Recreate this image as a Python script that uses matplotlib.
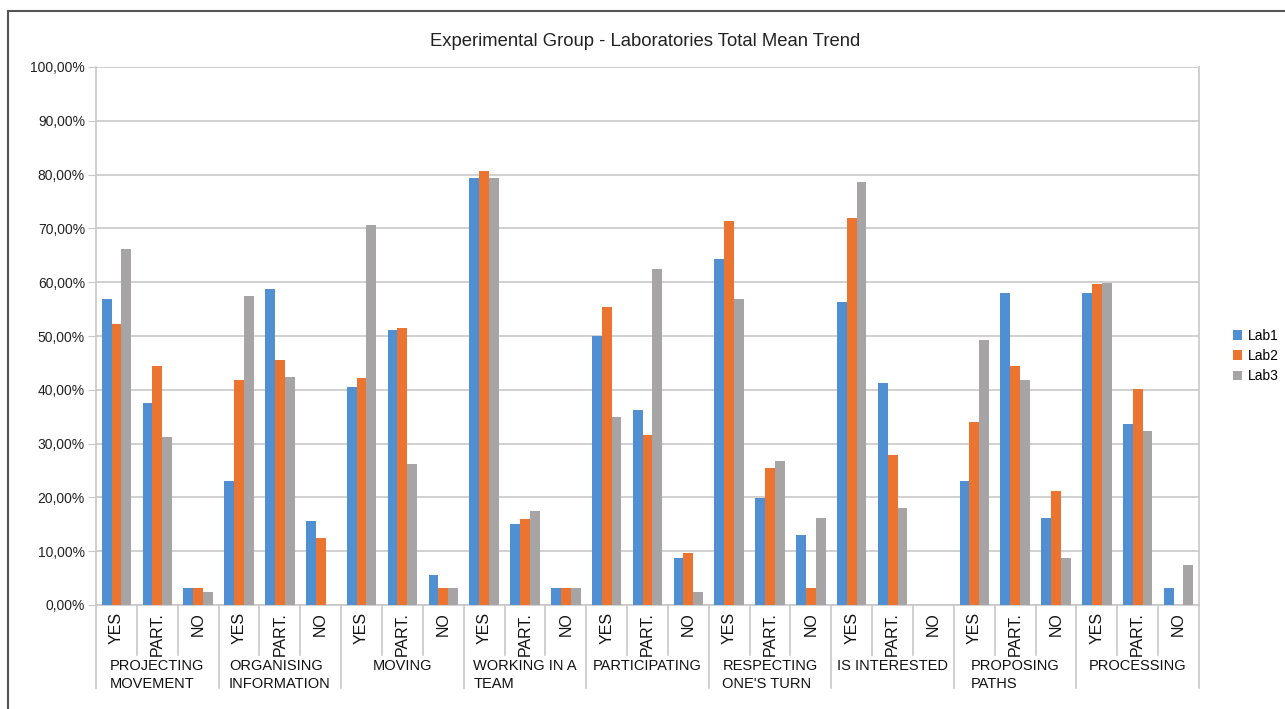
import matplotlib
matplotlib.use("Agg")
import matplotlib.pyplot as plt
from matplotlib.lines import Line2D
from matplotlib.patches import Patch
import numpy as np

plt.rcParams["font.family"] = ["Liberation Sans", "DejaVu Sans"]

# ── Data ──────────────────────────────────────────────────────────────────────
categories = ["PROJECTING\nMOVEMENT", "ORGANISING\nINFORMATION", "MOVING",
              "WORKING IN A\nTEAM", "PARTICIPATING", "RESPECTING\nONE'S TURN",
              "IS INTERESTED", "PROPOSING\nPATHS", "PROCESSING"]
answers = ["YES", "PART.", "NO"]
series = ["Lab1", "Lab2", "Lab3"]

lab1 = [56.9, 37.5, 3.1, 23.0, 58.8, 15.6, 40.6, 51.1, 5.6,
        79.3, 15.0, 3.1, 50.0, 36.2, 8.7, 64.3, 19.9, 13.1,
        56.3, 41.2, 0.0, 23.0, 58.0, 16.2, 58.0, 33.7, 3.1]
lab2 = [52.3, 44.5, 3.1, 41.9, 45.6, 12.5, 42.2, 51.4, 3.1,
        80.7, 16.0, 3.1, 55.4, 31.6, 9.7, 71.4, 25.4, 3.1,
        72.0, 27.8, 0.0, 34.1, 44.5, 21.2, 59.7, 40.2, 0.0]
lab3 = [66.2, 31.3, 2.4, 57.4, 42.4, 0.0, 70.6, 26.3, 3.1,
        79.3, 17.5, 3.1, 35.0, 62.5, 2.4, 56.8, 26.8, 16.2,
        78.6, 18.0, 0.0, 49.3, 41.9, 8.7, 59.9, 32.4, 7.4]

colors = ["#4F8FD2", "#EB7430", "#A6A4A4"]
grid_c = "#C8C8C8"

# ── Figure ────────────────────────────────────────────────────────────────────
fig = plt.figure(figsize=(12.85, 7.09), dpi=100)
ax = fig.add_axes([96 / 1285, 1 - 605 / 709, (1199 - 96) / 1285, (605 - 67) / 709])

n = len(categories) * len(answers)
x = np.arange(n)
w = 0.24
for i, (vals, c, name) in enumerate(zip([lab1, lab2, lab3], colors, series)):
    ax.bar(x + (i - 1) * w, vals, width=w, color=c, label=name, zorder=3)

ax.set_xlim(-0.5, n - 0.5)
ax.set_ylim(0, 100)
ax.set_yticks(np.arange(0, 101, 10))
ax.set_yticklabels([f"{v},00%" for v in range(0, 101, 10)], fontsize=10, color="#222222")
ax.yaxis.grid(True, color=grid_c, linewidth=1.2, zorder=0)
ax.tick_params(axis="y", length=6, color=grid_c, pad=2)
ax.set_xticks([])
for s in ["top", "bottom"]:
    ax.spines[s].set_visible(False)
for s in ["left", "right"]:
    ax.spines[s].set_color(grid_c)
    ax.spines[s].set_linewidth(1.2)

# x-axis labels and separators
trans = ax.get_xaxis_transform()
ax.plot([-0.5, n - 0.5], [0, 0], color=grid_c, lw=1.2, transform=trans, clip_on=False)
for k in range(n):
    ax.text(x[k], -0.013, answers[k % 3], rotation=90, ha="center", va="top",
            fontsize=11.5, transform=trans, color="#111111")
    b = k + 0.5
    if b < n - 0.5:
        bottom = -0.155 if (k + 1) % 3 == 0 else -0.093
        ax.plot([b, b], [0, bottom], color=grid_c, lw=1.2, transform=trans, clip_on=False)
for s in [-0.5, n - 0.5]:
    ax.plot([s, s], [0, -0.155], color=grid_c, lw=1.2, transform=trans, clip_on=False)
for j, cat in enumerate(categories):
    ax.text(3 * j + 1, -0.101, cat, ha="center", va="top", multialignment="left",
            fontsize=10.5, transform=trans, color="#111111", linespacing=1.35)

fig.text(0.502, 1 - 41 / 709, "Experimental Group - Laboratories Total Mean Trend",
         ha="center", va="center", fontsize=13.3, color="#222222")

handles = [Patch(facecolor=c, edgecolor="none") for c in colors]
fig.legend(handles, series, loc="center left", bbox_to_anchor=(1220 / 1285, 1 - 356 / 709),
           frameon=False, fontsize=10, handlelength=0.7, handleheight=0.7,
           handletextpad=0.4, labelspacing=0.45)

# outer frame
fig.add_artist(Line2D([8 / 1285, 8 / 1285], [0, 1 - 11 / 709], color="#555555", lw=1.5))
fig.add_artist(Line2D([8 / 1285, 1], [1 - 11 / 709, 1 - 11 / 709], color="#555555", lw=1.5))

fig.savefig("out.png", dpi=100)
